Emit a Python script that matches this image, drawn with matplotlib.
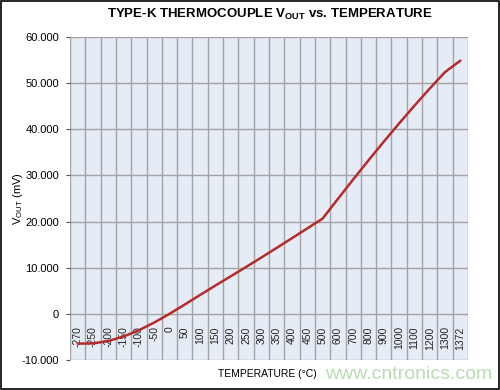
import numpy as np
import matplotlib.pyplot as plt
from matplotlib.patches import Rectangle

plt.rcParams['font.family'] = ['Liberation Sans', 'DejaVu Sans']
plt.rcParams['mathtext.fontset'] = 'custom'
plt.rcParams['mathtext.rm'] = 'Liberation Sans'
plt.rcParams['mathtext.bf'] = 'Liberation Sans:bold'

# temperature categories (degC) and type-K output (mV)
temps = ['-270', '-250', '-200', '-150', '-100', '-50', '0', '50', '100', '150',
         '200', '250', '300', '350', '400', '450', '500', '600', '700', '800',
         '900', '1000', '1100', '1200', '1300', '1372']
vout = [-6.458, -6.404, -5.891, -4.913, -3.554, -1.889, 0.0, 2.023, 4.096, 6.138,
        8.138, 10.153, 12.209, 14.293, 16.397, 18.516, 20.644, 24.905, 29.129, 33.275,
        37.326, 41.276, 45.119, 48.838, 52.410, 54.886]
ytick_vals = [-10, 0, 10, 20, 30, 40, 50, 60]
ytick_text = ['-10.000', '0', '10.000', '20.000', '30.000', '40.000', '50.000', '60.000']

fig = plt.figure(figsize=(5, 3.9), dpi=100)
ax = fig.add_axes([0.14, 0.077, 0.796, 0.828])
ax.set_facecolor('#E6ECF6')

x = np.arange(len(temps))
ax.set_xlim(-0.5, len(temps) - 0.5)
ax.set_ylim(-10, 60)

# grid: vertical lines between categories, horizontal at each major tick
for b in np.arange(-0.5, len(temps), 1.0):
    ax.axvline(b, color='#A3A3A3', lw=1, zorder=1)
for v in ytick_vals:
    ax.axhline(v, color='#A3A3A3', lw=1, zorder=1)

ax.plot(x, vout, color='#B52B2B', lw=1.8, zorder=3, solid_capstyle='round')

ax.set_yticks(ytick_vals)
ax.set_yticklabels(ytick_text, fontsize=8)
ax.tick_params(axis='y', length=3, color='#555555', pad=5)
ax.set_xticks([])

# category labels sit just under the zero line, inside the plot
for xi, t in zip(x, temps):
    ax.annotate(t, xy=(xi, 0), xytext=(0, -9), textcoords='offset points',
                rotation=90, ha='center', va='top', fontsize=7.5, color='#222222', zorder=2)

for s in ax.spines.values():
    s.set_visible(False)

fig.text(0.54, 0.962, r'TYPE-K THERMOCOUPLE V$_{\bf OUT}$ vs. TEMPERATURE',
         ha='center', va='center', fontsize=9.5, fontweight='bold')
fig.text(0.036, 0.49, r'V$_{\rm OUT}$ (mV)', rotation=90, ha='center', va='center', fontsize=8)
fig.text(0.535, 0.041, 'TEMPERATURE (°C)', ha='center', va='center', fontsize=7.5)
fig.text(0.65, 0.04, 'www.cntronics.com', ha='left', va='center', fontsize=14,
         color='#B8DDB0')

fig.patches.append(Rectangle((0.001, 0.002), 0.997, 0.995, transform=fig.transFigure,
                             fill=False, edgecolor='black', lw=1.2))

fig.savefig('out.png', dpi=100)
